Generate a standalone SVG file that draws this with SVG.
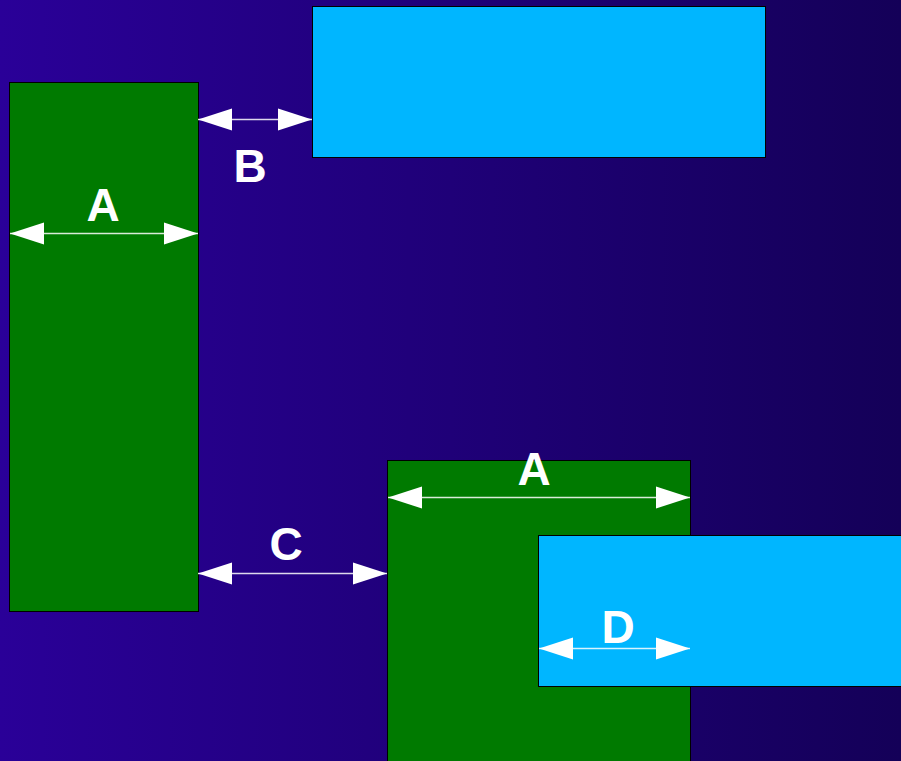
<svg xmlns="http://www.w3.org/2000/svg" width="901" height="761" viewBox="0 0 901 761">
<defs>
<linearGradient id="bg" x1="0" y1="0" x2="1" y2="0">
<stop offset="0" stop-color="#2a0098"/>
<stop offset="1" stop-color="#140058"/>
</linearGradient>
<marker id="ah" markerUnits="userSpaceOnUse" markerWidth="36" markerHeight="24" refX="34" refY="12" orient="auto-start-reverse">
<path d="M0,1 L34,12 L0,23 Z" fill="#ffffff"/>
</marker>
</defs>
<style>
.green{fill:#007a00;stroke:#000;stroke-width:1}
.cyan{fill:#00b6ff;stroke:#000;stroke-width:1}
.dim{stroke:#ffffff;stroke-opacity:0.85;stroke-width:1.5;fill:none;marker-start:url(#ah);marker-end:url(#ah)}
.lbl{font-family:"Liberation Sans",Arial,sans-serif;font-weight:bold;font-size:46px;fill:#ffffff;text-anchor:middle}
</style>
<rect x="0" y="0" width="901" height="761" fill="url(#bg)"/>
<g id="green-left"><rect class="green" x="9.5" y="82.5" width="189" height="529"/></g>
<g id="cyan-top"><rect class="cyan" x="312.5" y="6.5" width="453" height="151"/></g>
<g id="green-bottom"><rect class="green" x="387.5" y="460.5" width="303" height="310"/></g>
<g id="cyan-bottom"><rect class="cyan" x="538.5" y="535.5" width="370" height="151"/></g>
<g id="connectors">
<line class="dim" x1="198" y1="119.5" x2="312" y2="119.5"/>
<line class="dim" x1="10" y1="233.5" x2="198" y2="233.5"/>
<line class="dim" x1="198" y1="573.5" x2="387" y2="573.5"/>
<line class="dim" x1="388" y1="497.5" x2="690" y2="497.5"/>
<line class="dim" x1="539" y1="648.5" x2="690" y2="648.5"/>
</g>
<g id="labels">
<text class="lbl" x="250" y="182">B</text>
<text class="lbl" x="103" y="221">A</text>
<text class="lbl" x="286" y="560">C</text>
<text class="lbl" x="534" y="485">A</text>
<text class="lbl" x="618" y="643">D</text>
</g>
</svg>
